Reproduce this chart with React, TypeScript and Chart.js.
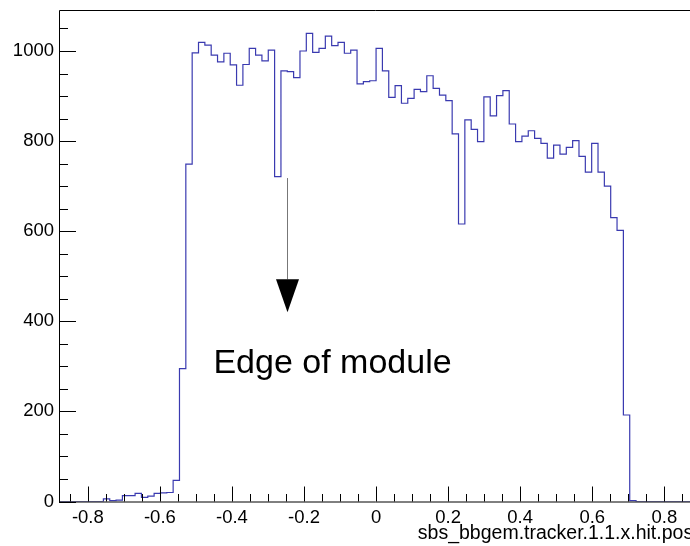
import React, { useEffect, useRef } from "react";
import { Chart, registerables } from "chart.js";

Chart.register(...registerables);

// Histogram definition
const X_MIN = -0.88;
const X_MAX = 0.88;
const N_BINS = 100;
const X_VIEW_MAX = 0.8713; // right part of frame is cropped in the reference
const Y_MAX = 1091;

// bin contents (100 bins)
const leadingZeros = [0, 0, 0, 0, 0, 0, 0, 0];
const leftTail = [6, 2, 3, 13, 13, 18, 9, 12, 18, 19, 20, 47];
const risingEdge = [295, 749];
const plateauA = [996, 1019, 1013, 991, 976, 995, 969, 924, 970, 1006, 991, 978, 1002, 721];
const plateauB = [956, 954, 941, 1000, 1039, 997, 1006, 1033, 1012, 1019, 995, 1002, 927, 932, 934, 1006, 956];
const plateauC = [897, 923, 884, 895, 915, 910, 945, 917, 902, 890, 816, 616, 847, 826, 799, 898, 856, 901, 912];
const plateauD = [838, 799, 811, 823, 806, 795, 762, 791, 771, 786, 801, 766, 731, 795, 731, 700, 630, 602];
const fallingEdge = [192, 2];
const trailingZeros = [0, 0, 0, 0, 0, 0, 0, 0];

const counts = [
  ...leadingZeros,
  ...leftTail,
  ...risingEdge,
  ...plateauA,
  ...plateauB,
  ...plateauC,
  ...plateauD,
  ...fallingEdge,
  ...trailingZeros,
];

const xTickValues = [-0.8, -0.6, -0.4, -0.2, 0, 0.2, 0.4, 0.6, 0.8];
const xTickLabels = ["-0.8", "-0.6", "-0.4", "-0.2", "0", "0.2", "0.4", "0.6", "0.8"];
const yTickValues = [0, 200, 400, 600, 800, 1000];
const yTickLabels = ["0", "200", "400", "600", "800", "1000"];

const xTitle = "sbs_bbgem.tracker.1.1.x.hit.pos";
const annotationText = "Edge of module";
const textPos = { x: -0.4514, y: 285 };
const arrow = { x: -0.2464, from: 718, to: 420 };

const FONT = '"Liberation Sans", Arial, Helvetica, sans-serif';

export default function App() {
  const canvasRef = useRef<HTMLCanvasElement | null>(null);

  useEffect(() => {
    const canvas = canvasRef.current;
    if (!canvas) return;
    const w = (X_MAX - X_MIN) / N_BINS;
    const pts: { x: number; y: number }[] = counts.map((c, k) => ({ x: X_MIN + k * w, y: c }));
    pts.push({ x: X_MAX, y: counts[counts.length - 1] });

    const framePlugin = {
      id: "rootFrame",
      afterDraw(chart: any) {
        const ctx = chart.ctx as CanvasRenderingContext2D;
        const xs = chart.scales.x;
        const ys = chart.scales.y;
        const { left, right, top, bottom } = chart.chartArea;
        ctx.save();
        ctx.strokeStyle = "#000";
        ctx.lineWidth = 1;
        // frame
        ctx.beginPath();
        ctx.moveTo(right + 20, top + 0.5);
        ctx.lineTo(left + 0.5, top + 0.5);
        ctx.lineTo(left + 0.5, bottom + 0.5);
        ctx.lineTo(right + 20, bottom + 0.5);
        ctx.stroke();
        // x ticks (major + minor)
        ctx.beginPath();
        const xStep = 0.2 / 4;
        for (let i = -20; i <= 20; i++) {
          const v = i * xStep;
          if (v < X_MIN || v > X_MAX) continue;
          const px = Math.round(xs.getPixelForValue(v)) + 0.5;
          const len = i % 4 === 0 ? 15 : 7.5;
          ctx.moveTo(px, bottom);
          ctx.lineTo(px, bottom - len);
        }
        // y ticks
        const yStep = 200 / 4;
        for (let i = 0; i * yStep <= Y_MAX; i++) {
          const v = i * yStep;
          const py = Math.round(ys.getPixelForValue(v)) + 0.5;
          const len = i % 4 === 0 ? 17 : 9;
          ctx.moveTo(left, py);
          ctx.lineTo(left + len, py);
        }
        ctx.stroke();

        // arrow
        const ax = Math.round(xs.getPixelForValue(arrow.x)) + 0.5;
        const ay0 = ys.getPixelForValue(arrow.from);
        const ay1 = ys.getPixelForValue(arrow.to);
        const headLen = 33;
        ctx.strokeStyle = "#777";
        ctx.lineWidth = 1;
        ctx.beginPath();
        ctx.moveTo(ax, ay0);
        ctx.lineTo(ax, ay1 - headLen);
        ctx.stroke();
        ctx.fillStyle = "#000";
        ctx.beginPath();
        ctx.moveTo(ax - 11.5, ay1 - headLen);
        ctx.lineTo(ax + 11.5, ay1 - headLen);
        ctx.lineTo(ax, ay1);
        ctx.closePath();
        ctx.fill();

        // annotation text
        ctx.fillStyle = "#000";
        ctx.font = `34px ${FONT}`;
        ctx.textAlign = "left";
        ctx.textBaseline = "alphabetic";
        ctx.fillText(annotationText, xs.getPixelForValue(textPos.x), ys.getPixelForValue(textPos.y));

        // axis title (right-aligned to the histogram's upper edge)
        ctx.font = `19.5px ${FONT}`;
        ctx.textAlign = "right";
        ctx.fillText(xTitle, xs.getPixelForValue(X_MAX), 539);
        ctx.restore();
      },
    };

    const chart = new Chart(canvas, {
      type: "line",
      data: {
        datasets: [
          {
            data: pts,
            stepped: "after",
            borderColor: "#3a3ab0",
            borderWidth: 1.2,
            pointRadius: 0,
            fill: false,
          },
        ],
      },
      options: {
        responsive: false,
        animation: false,
        devicePixelRatio: 1,
        layout: { autoPadding: false, padding: { top: 10, left: 0, right: 0, bottom: 0 } },
        plugins: { legend: { display: false }, tooltip: { enabled: false } },
        scales: {
          x: {
            type: "linear",
            min: X_MIN,
            max: X_VIEW_MAX,
            grid: { display: false, drawTicks: false },
            border: { display: false },
            afterBuildTicks: (s: any) => {
              s.ticks = xTickValues.map((v) => ({ value: v }));
            },
            afterFit: (s: any) => {
              s.height = 44.5;
              s.paddingLeft = 0;
              s.paddingRight = 0;
            },
            ticks: {
              autoSkip: false,
              maxRotation: 0,
              padding: 5.5,
              color: "#000",
              font: { family: FONT, size: 18.5 },
              callback: (v: any) => xTickLabels[xTickValues.indexOf(Number(v))] ?? "",
            },
          },
          y: {
            type: "linear",
            min: 0,
            max: Y_MAX,
            grid: { display: false, drawTicks: false },
            border: { display: false },
            afterBuildTicks: (s: any) => {
              s.ticks = yTickValues.map((v) => ({ value: v }));
            },
            afterFit: (s: any) => {
              s.width = 59;
              s.paddingTop = 0;
              s.paddingBottom = 0;
            },
            ticks: {
              autoSkip: false,
              padding: 5,
              color: "#000",
              font: { family: FONT, size: 18.5 },
              callback: (v: any) => yTickLabels[yTickValues.indexOf(Number(v))] ?? "",
            },
          },
        },
      },
      plugins: [framePlugin],
    } as any);

    return () => chart.destroy();
  }, []);

  return (
    <div style={{ position: "fixed", left: 0, top: 0, width: 690, height: 546, background: "#fff" }}>
      <canvas ref={canvasRef} width={690} height={546} />
    </div>
  );
}
